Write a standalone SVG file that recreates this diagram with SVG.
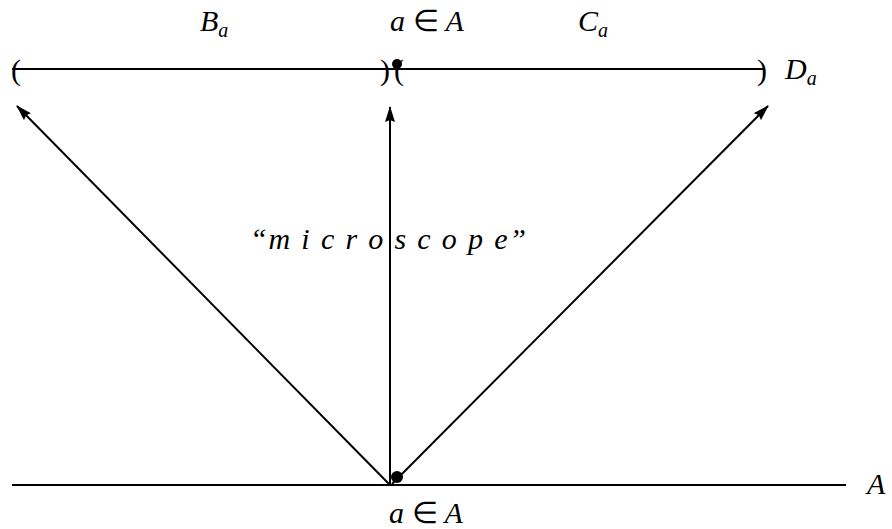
<svg xmlns="http://www.w3.org/2000/svg" width="892" height="529" viewBox="0 0 892 529">
<style>
.m{font-family:"Liberation Serif","Times New Roman",serif;font-style:italic;font-size:30px;fill:#000}
.u{font-style:normal}
.s{font-size:20px}
.p{font-family:"Liberation Serif","Times New Roman",serif;font-size:30px;fill:#000}
.ln{stroke:#000;stroke-width:2;fill:none}
</style>
<defs>
<marker id="ah" viewBox="0 0 16 10" refX="15" refY="5" markerWidth="16" markerHeight="10" markerUnits="userSpaceOnUse" orient="auto">
<path d="M0,0 L16,5 L0,10 L2,5 Z" fill="#000"/>
</marker>
</defs>
<g id="connectors">
<line class="ln" x1="389" y1="484" x2="17" y2="106" marker-end="url(#ah)"/>
<line class="ln" x1="390" y1="484" x2="390" y2="107" marker-end="url(#ah)"/>
<line class="ln" x1="392" y1="484" x2="768" y2="106" marker-end="url(#ah)"/>
</g>
<g id="top-line">
<line class="ln" x1="12" y1="69" x2="764" y2="69"/>
<text class="p" x="11" y="80">(</text>
<text class="p" x="380" y="80">)</text>
<text class="p" x="394" y="80">(</text>
<text class="p" x="757" y="80">)</text>
<circle cx="397" cy="64" r="5" fill="#000"/>
</g>
<g id="bottom-line">
<line class="ln" x1="12" y1="485" x2="846" y2="485"/>
<circle cx="397" cy="477" r="6" fill="#000"/>
</g>
<g id="labels">
<text class="m" x="200" y="31">B<tspan class="s" dy="6">a</tspan></text>
<text class="m" x="390" y="31">a <tspan class="u">∈</tspan> A</text>
<text class="m" x="578" y="31">C<tspan class="s" dy="6">a</tspan></text>
<text class="m" x="785" y="79">D<tspan class="s" dy="6">a</tspan></text>
<text class="m" x="250" y="249" textLength="276" lengthAdjust="spacing">“m i c r o s c o p e”</text>
<text class="m" x="389" y="523">a <tspan class="u">∈</tspan> A</text>
<text class="m" x="867" y="494">A</text>
</g>
</svg>
